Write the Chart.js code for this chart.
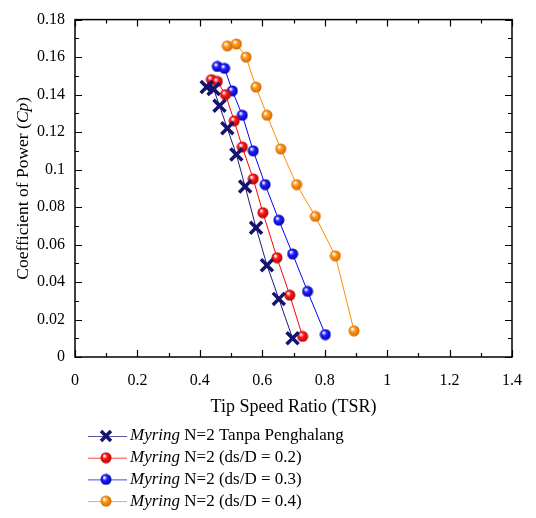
<!DOCTYPE html>
<html>
<head>
<meta charset="utf-8">
<script src="https://cdn.jsdelivr.net/npm/chart.js@4/dist/chart.umd.min.js"></script>
<style>
html, body { margin: 0; padding: 0; background: #fff; }
</style>
</head>
<body>
<canvas id="myChart" width="536" height="518"></canvas>
<script>
// data
var tsrPlain = [0.422, 0.444, 0.463, 0.488, 0.517, 0.545, 0.580, 0.615, 0.653, 0.697]
var cpPlain  = [0.144, 0.143, 0.134, 0.122, 0.108, 0.091, 0.069, 0.049, 0.031, 0.010]
var tsr02 = [0.437, 0.456, 0.482, 0.510, 0.536, 0.571, 0.602, 0.647, 0.688, 0.729]
var cp02  = [0.148, 0.147, 0.140, 0.126, 0.112, 0.095, 0.077, 0.053, 0.033, 0.011]
var tsr03 = [0.456, 0.479, 0.504, 0.536, 0.571, 0.609, 0.653, 0.697, 0.745, 0.802]
var cp03  = [0.155, 0.154, 0.142, 0.129, 0.110, 0.092, 0.073, 0.055, 0.035, 0.012]
var tsr04 = [0.488, 0.517, 0.548, 0.580, 0.615, 0.659, 0.710, 0.770, 0.834, 0.894]
var cp04  = [0.166, 0.167, 0.160, 0.144, 0.129, 0.111, 0.092, 0.075, 0.054, 0.014]

var seriesNames = [
    'Myring N=2 Tanpa Penghalang',
    'Myring N=2 (ds/D = 0.2)',
    'Myring N=2 (ds/D = 0.3)',
    'Myring N=2 (ds/D = 0.4)'
]
var xTicks = [0, 0.2, 0.4, 0.6, 0.8, 1, 1.2, 1.4]
var yTicks = [0, 0.02, 0.04, 0.06, 0.08, 0.1, 0.12, 0.14, 0.16, 0.18]

const serif = '"Liberation Serif", "Times New Roman", serif'

function toPoints(xs, ys) {
    return xs.map((x, i) => ({ x: x, y: ys[i] }))
}

function fmt(v) {
    return String(+v.toFixed(2))
}

// small shaded ball used as marker
function makeBall(color, dark) {
    var c = document.createElement('canvas')
    c.width = 12
    c.height = 12
    var g = c.getContext('2d')
    var grad = g.createRadialGradient(4.2, 4, 0.5, 6, 6, 6)
    grad.addColorStop(0, '#ffffff')
    grad.addColorStop(0.35, color)
    grad.addColorStop(1, dark)
    g.fillStyle = grad
    g.beginPath()
    g.arc(6, 6, 5.5, 0, Math.PI * 2)
    g.fill()
    return c
}

var balls = [
    null,
    makeBall('#ff1a1a', '#b00000'),
    makeBall('#2020ff', '#0000a0'),
    makeBall('#ff9a1a', '#d06000')
]
var colors = ['#1c1c78', '#ff0000', '#0000ff', '#ff8c00']

const datasets = [
    {
        label: seriesNames[0],
        data: toPoints(tsrPlain, cpPlain),
        borderColor: colors[0],
        borderWidth: 1,
        pointStyle: 'crossRot',
        pointRadius: 8.5,
        pointBorderWidth: 3.5,
        pointBorderColor: '#141470'
    },
    { label: seriesNames[1], data: toPoints(tsr02, cp02), borderColor: colors[1], borderWidth: 1, pointStyle: balls[1] },
    { label: seriesNames[2], data: toPoints(tsr03, cp03), borderColor: colors[2], borderWidth: 1, pointStyle: balls[2] },
    { label: seriesNames[3], data: toPoints(tsr04, cp04), borderColor: colors[3], borderWidth: 1, pointStyle: balls[3] }
]

const decor = {
    id: 'decor',
    afterDraw(chart) {
        const c = chart.ctx
        const a = chart.chartArea
        const xs = chart.scales.x
        const ys = chart.scales.y
        c.save()
        c.strokeStyle = '#000'
        c.lineWidth = 1.5
        c.strokeRect(a.left, a.top, a.right - a.left, a.bottom - a.top)

        // inward ticks, major and minor
        c.lineWidth = 1.2
        c.beginPath()
        for (var v = 0; v <= 14; v++) {
            var px = Math.round(xs.getPixelForValue(v / 10)) + 0.5
            var len = v % 2 === 0 ? 7 : 4
            c.moveTo(px, a.bottom); c.lineTo(px, a.bottom - len)
            c.moveTo(px, a.top); c.lineTo(px, a.top + len)
        }
        for (var w = 0; w <= 18; w++) {
            var py = Math.round(ys.getPixelForValue(w / 100)) + 0.5
            var l2 = w % 2 === 0 ? 7 : 4
            c.moveTo(a.left, py); c.lineTo(a.left + l2, py)
            c.moveTo(a.right, py); c.lineTo(a.right - l2, py)
        }
        c.stroke()

        // y title with italic Cp
        c.translate(23, (a.top + a.bottom) / 2)
        c.rotate(-Math.PI / 2)
        c.fillStyle = '#000'
        c.textBaseline = 'middle'
        var parts = [['Coefficient of Power (', ''], ['Cp', 'italic '], [')', '']]
        var total = 0
        parts.forEach(p => { c.font = p[1] + '17.5px ' + serif; total += c.measureText(p[0]).width })
        var x0 = -total / 2
        parts.forEach(p => {
            c.font = p[1] + '17.5px ' + serif
            c.fillText(p[0], x0, 0)
            x0 += c.measureText(p[0]).width
        })
        c.restore()

        // legend
        c.save()
        c.textBaseline = 'middle'
        chart.data.datasets.forEach((ds, i) => {
            var y = 436 + i * 21.7
            c.strokeStyle = ds.borderColor
            c.globalAlpha = 0.75
            c.lineWidth = 1
            c.beginPath(); c.moveTo(88, y + 0.5); c.lineTo(127, y + 0.5); c.stroke()
            c.globalAlpha = 1
            if (i === 0) {
                c.strokeStyle = '#141470'
                c.lineWidth = 3.5
                c.beginPath()
                c.moveTo(101, y - 5); c.lineTo(111, y + 5)
                c.moveTo(111, y - 5); c.lineTo(101, y + 5)
                c.stroke()
            } else {
                c.drawImage(balls[i], 100, y - 6)
            }
            var sp = ds.label.indexOf(' ')
            c.fillStyle = '#000'
            c.font = 'italic 17px ' + serif
            var first = ds.label.slice(0, sp)
            c.fillText(first, 130, y)
            var wd = c.measureText(first + ' ').width
            c.font = '17px ' + serif
            c.fillText(ds.label.slice(sp + 1), 130 + wd, y)
        })
        c.restore()
    }
}

const config = {
    type: 'line',
    data: { datasets: datasets },
    options: {
        responsive: false,
        animation: false,
        layout: { padding: { top: 10, right: 19, bottom: 96, left: 0 } },
        plugins: { legend: { display: false }, tooltip: { enabled: false } },
        scales: {
            x: {
                type: 'linear',
                min: 0,
                max: 1.4,
                afterFit: s => { s.height = 65 },
                afterBuildTicks: s => { s.ticks = xTicks.map(v => ({ value: v })) },
                grid: { display: false, drawTicks: false },
                border: { display: false },
                ticks: { padding: 14, color: '#000', font: { family: serif, size: 16 }, maxRotation: 0, callback: v => fmt(v) },
                title: { display: true, text: 'Tip Speed Ratio (TSR)', color: '#000', font: { family: serif, size: 18 }, padding: { top: 9 } }
            },
            y: {
                type: 'linear',
                min: 0,
                max: 0.18,
                afterFit: s => { s.width = 75 },
                afterBuildTicks: s => { s.ticks = yTicks.map(v => ({ value: v })) },
                grid: { display: false, drawTicks: false },
                border: { display: false },
                ticks: { padding: 10, color: '#000', font: { family: serif, size: 16 }, callback: v => fmt(v) }
            }
        }
    },
    plugins: [decor]
}
const myChart = new Chart(document.getElementById('myChart'), config)
</script>
</body>
</html>
